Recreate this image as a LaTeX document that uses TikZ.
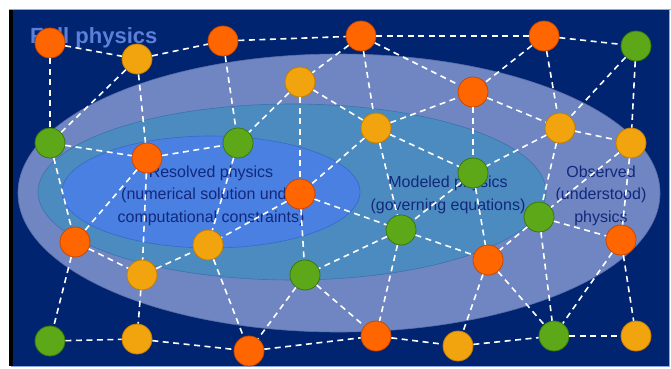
\documentclass[tikz,border=0pt]{standalone}
\usepackage{fontspec}
\setmainfont{Liberation Sans}
\definecolor{cNavy}{RGB}{0,36,112}
\definecolor{cOut}{RGB}{111,134,194}
\definecolor{cOutD}{RGB}{90,110,170}
\definecolor{cMid}{RGB}{76,139,192}
\definecolor{cMidD}{RGB}{60,115,170}
\definecolor{cIn}{RGB}{74,128,226}
\definecolor{cInD}{RGB}{55,105,200}
\definecolor{cOr}{RGB}{255,102,0}
\definecolor{cOrD}{RGB}{200,70,0}
\definecolor{cYe}{RGB}{241,164,14}
\definecolor{cYeD}{RGB}{196,125,0}
\definecolor{cGr}{RGB}{92,168,24}
\definecolor{cGrD}{RGB}{58,118,14}
\definecolor{cTitle}{RGB}{92,128,218}
\definecolor{cText}{RGB}{18,40,124}
\begin{document}
\begin{tikzpicture}[x=1pt,y=-1pt,
  nd/.style={circle,minimum size=30pt,inner sep=0pt,line width=0.8pt},
  orn/.style={nd,fill=cOr,draw=cOrD},
  yel/.style={nd,fill=cYe,draw=cYeD},
  grn/.style={nd,fill=cGr,draw=cGrD},
  lnk/.style={white,dash pattern=on 6pt off 4.5pt,line width=1.6pt},
  lbl/.style={text=cText,align=center,font=\fontsize{16}{22.5}\selectfont,inner sep=0pt}]
\useasboundingbox (0,0) rectangle (671,368);
\fill[white] (0,0) rectangle (671,368);
% frame
\fill[cNavy] (11,10) rectangle (669,366);
\draw[color=cTitle!70!white,line width=1pt] (11,366) -- (669,366) -- (669,10);
\draw[gray!70,line width=1pt] (9,9.5) -- (671,9.5);
\fill[black] (9,10) rectangle (13,366);
% ellipses
\filldraw[fill=cOut,draw=cOutD,line width=0.6pt] (339,193) ellipse [x radius=321pt, y radius=139pt];
\filldraw[fill=cMid,draw=cMidD,line width=0.6pt] (292,192) ellipse [x radius=254pt, y radius=88pt];
\filldraw[fill=cIn,draw=cInD,line width=0.6pt] (211,192) ellipse [x radius=149pt, y radius=56pt];
% texts
\node[text=cTitle,font=\fontsize{22}{24}\selectfont\bfseries,anchor=base west,inner sep=0pt] (title) at (30,43) {Full physics};
\node[lbl,anchor=base] (res) at (211,222) {Resolved physics\\(numerical solution under\\computational constraints)};
\node[lbl,anchor=base] (mod) at (448,210) {Modeled physics\\(governing equations)};
\node[lbl,anchor=base] (obs) at (601,222) {Observed\\(understood)\\physics};
% nodes
\node[orn] (n1) at (50,43) {};
\node[yel] (n2) at (137,59) {};
\node[orn] (n3) at (223,41) {};
\node[orn] (n4) at (361,36) {};
\node[orn] (n5) at (544,36) {};
\node[grn] (n6) at (636,46) {};
\node[yel] (n7) at (300,82) {};
\node[orn] (n8) at (473,92) {};
\node[yel] (n9) at (376,128) {};
\node[yel] (n10) at (560,128) {};
\node[yel] (n11) at (631,143) {};
\node[grn] (n12) at (50,143) {};
\node[orn] (n13) at (147,158) {};
\node[grn] (n14) at (238,143) {};
\node[grn] (n15) at (473,173) {};
\node[orn] (n16) at (300,194) {};
\node[grn] (n17) at (539,217) {};
\node[orn] (n18) at (621,240) {};
\node[orn] (n19) at (75,242) {};
\node[yel] (n20) at (208,245) {};
\node[grn] (n21) at (401,230) {};
\node[yel] (n22) at (142,275) {};
\node[grn] (n23) at (305,275) {};
\node[orn] (n24) at (488,260) {};
\node[grn] (n25) at (50,341) {};
\node[yel] (n26) at (137,339) {};
\node[orn] (n27) at (249,351) {};
\node[orn] (n28) at (376,336) {};
\node[yel] (n29) at (458,346) {};
\node[grn] (n30) at (554,336) {};
\node[yel] (n31) at (636,336) {};
% links
\foreach \a/\b in {1/2,2/3,3/4,4/5,5/6,1/12,2/12,2/13,3/14,4/7,4/9,4/8,7/14,7/16,7/9,9/8,9/16,9/21,9/15,8/15,8/10,5/8,5/10,6/10,6/11,10/11,10/15,10/17,11/17,11/18,17/18,15/21,15/24,17/24,21/24,16/21,21/23,21/28,16/23,23/28,23/27,27/28,28/29,20/27,26/27,16/20,13/14,14/20,12/13,13/19,13/22,12/19,19/22,19/25,22/20,22/26,25/26,29/30,24/29,24/30,17/30,18/30,30/31,18/31}
  \draw[lnk] (n\a) -- (n\b);
\end{tikzpicture}
\end{document}
